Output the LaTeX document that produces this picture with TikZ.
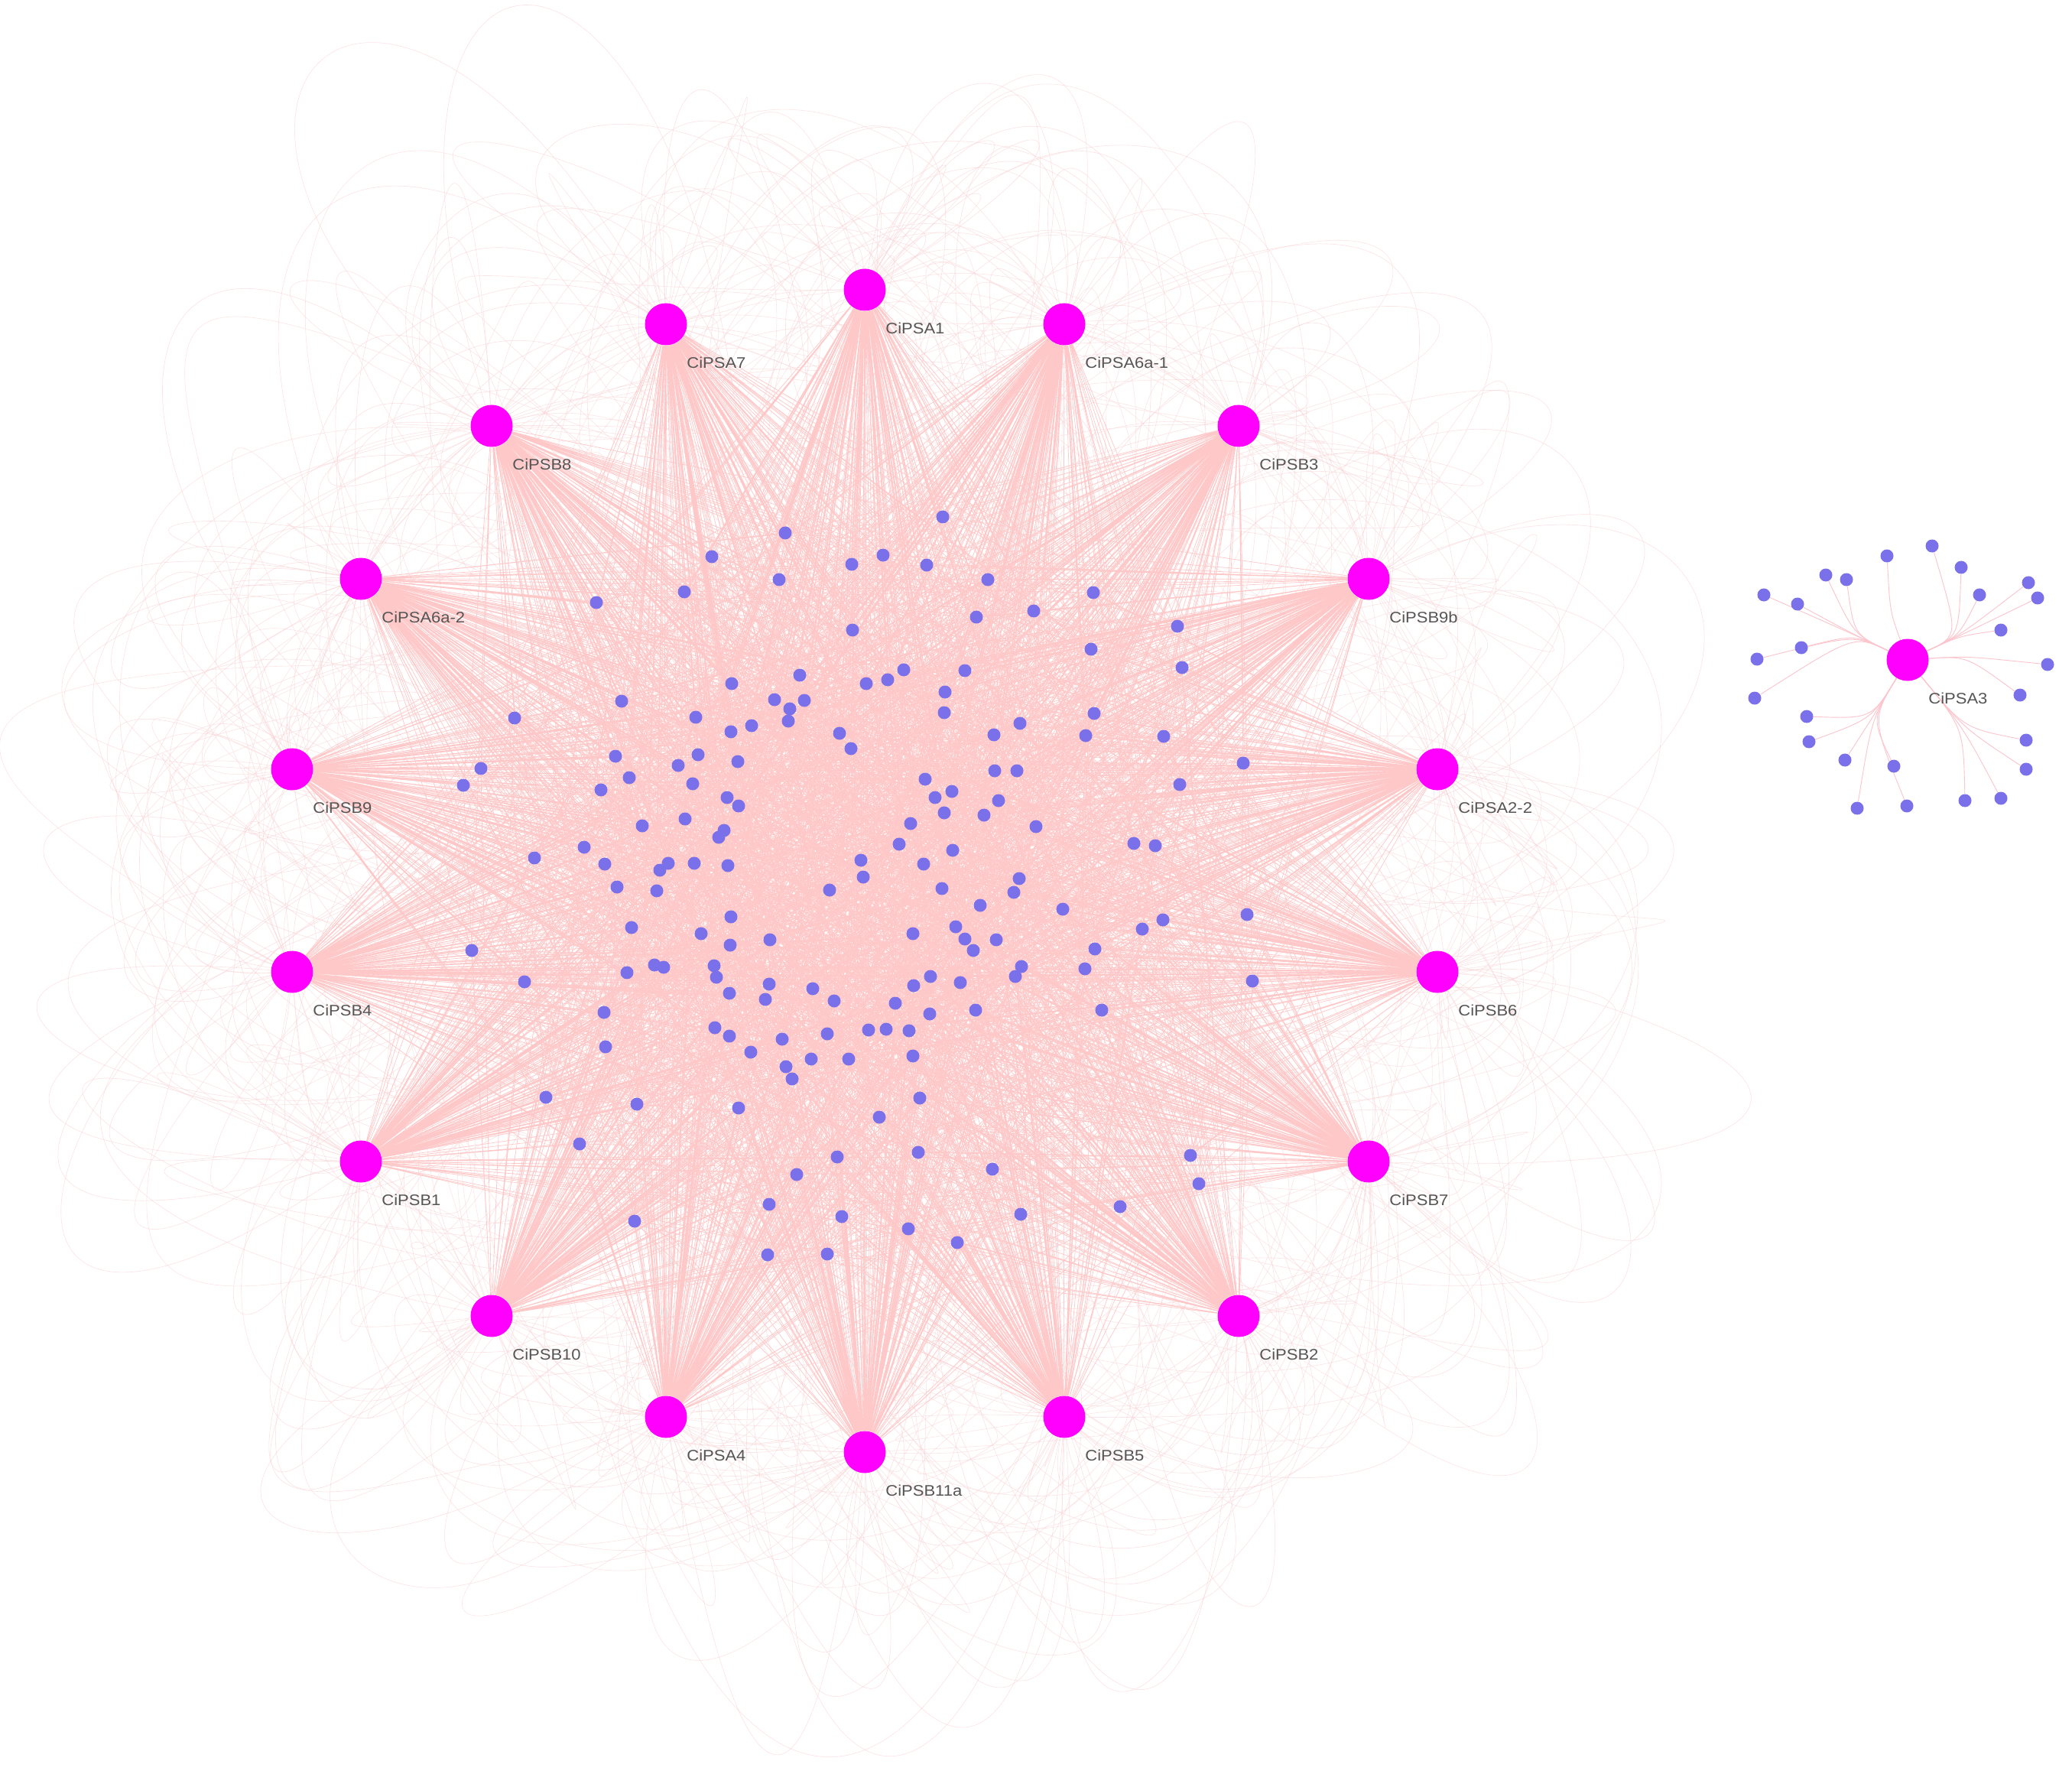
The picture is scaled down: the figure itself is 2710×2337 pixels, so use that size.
\documentclass[tikz,border=0pt]{standalone}
\usepackage{fontspec}
\setmainfont{Liberation Sans}
\usetikzlibrary{calc}
\pgfdeclarelayer{bg}
\pgfsetlayers{bg,main}
\definecolor{hubc}{RGB}{255,0,255}
\definecolor{dotc}{RGB}{122,112,234}
\definecolor{edgec}{RGB}{255,200,200}
\definecolor{curvec}{RGB}{250,208,210}
\definecolor{smallc}{RGB}{252,196,204}
\definecolor{labc}{RGB}{85,85,85}
\begin{document}
\begin{tikzpicture}[x=0.5pt,y=-0.5pt,
  hub/.style={circle,fill=hubc,draw=none,minimum size=27.5pt,inner sep=0pt},
  bdot/.style={circle,fill=dotc,draw=none,minimum size=8.5pt,inner sep=0pt},
  edge/.style={draw=edgec,line width=0.35pt},
  loopedge/.style={draw=curvec,line width=0.3pt,opacity=0.6},
  wanderedge/.style={draw=curvec,line width=0.3pt,opacity=0.55},
  smalledge/.style={draw=smallc,line width=0.45pt},
  lab/.style={anchor=west,text=labc,font=\fontsize{10}{12}\selectfont,inner sep=0pt}]
\useasboundingbox (0,0) rectangle (2710,2337);
\def\hublist{1/1131/379/CiPSA1,2/871/424/CiPSA7,3/1392/424/CiPSA6a-1,4/643/557/CiPSB8,5/1620/557/CiPSB3,6/472/757/CiPSA6a-2,7/1790/757/CiPSB9b,8/382/1006/CiPSB9,9/1880/1006/CiPSA2-2,10/382/1271/CiPSB4,11/1880/1271/CiPSB6,12/472/1519/CiPSB1,13/1790/1519/CiPSB7,14/643/1721/CiPSB10,15/1620/1721/CiPSB2,16/871/1853/CiPSA4,17/1392/1853/CiPSB5,18/1131/1899/CiPSB11a}
% blue gene dots
\foreach [count=\i] \x/\y in {
1027/697,931/728,1114/738,1019/758,895/774,780/788,1115/824,1046/883,957/894,813/917,1013/915,1052/916,1033/927,910/938,673/939,1031/943,983/949,956/957,1098/959,1113/979,805/989,913/987,965/996,887/1001,629/1005,823/1017,906/1025,606/1027,786/1033,951/1043,966/1054,896/1071,840/1080,947/1086,940/1095,764/1108,699/1122,791/1130,874/1129,863/1138,908/1129,952/1132,
1233/676,1155/726,1212/739,1292/758,1430/775,1352/799,1277/807,1540/819,1427/849,1546/873,1182/876,1262/877,1133/894,1161/889,1236/905,1235/932,1431/933,1334/946,1300/961,1420/962,1522/963,1626/998,1301/1008,1330/1008,1543/1026,1210/1019,1245/1035,1223/1043,1306/1047,1235/1063,1287/1066,1191/1077,1355/1081,1176/1104,1246/1112,1483/1103,1511/1106,1126/1125,1208/1130,1129/1147,1333/1149,
807/1160,859/1165,1085/1164,956/1199,826/1213,917/1221,1007/1229,955/1236,617/1243,856/1262,868/1265,820/1272,934/1263,937/1278,686/1284,1006/1287,1063/1293,954/1299,1001/1307,1091/1309,790/1324,935/1344,954/1355,1082/1352,1023/1359,792/1369,982/1376,1061/1385,1110/1385,1028/1395,1036/1411,714/1435,833/1444,966/1449,758/1496,1095/1513,1042/1536,1006/1575,1101/1591,830/1597,1004/1641,1082/1640,
1232/1162,1326/1167,1282/1184,1390/1189,1521/1203,1494/1215,1631/1196,1194/1221,1250/1212,1262/1228,1273/1243,1303/1229,1432/1241,1336/1264,1328/1277,1419/1267,1638/1283,1217/1277,1195/1289,1256/1285,1171/1312,1216/1326,1276/1321,1441/1321,1136/1347,1159/1346,1189/1348,1194/1381,1203/1436,1150/1461,1201/1507,1298/1529,1557/1511,1568/1548,1465/1578,1335/1588,1188/1607,1252/1625}
  \node[bdot] (d\i) at (\x,\y) {};
% hubs and labels
\foreach \n/\x/\y/\lbl in \hublist {
  \node[hub] (h\n) at (\x,\y) {};
  \node[lab] (l\n) at ([shift={(27,50)}]h\n) {\scalebox{1.1}[1]{\lbl}};
}
% separate component CiPSA3
\node[hub] (h19) at (2495,863) {};
\node[lab] (l19) at ([shift={(27,50)}]h19) {\scalebox{1.1}[1]{CiPSA3}};
\foreach [count=\i] \x/\y in {2307/778,2351/790,2388/752,2415/758,2356/847,2298/862,2295/913,
  2468/727,
  2527/714,2565/742,2589/778,2653/762,2665/782,2617/824,
  2678/869,2642/909,
  2363/937,2366/970,2413/994,2429/1057,2477/1002,2494/1054,
  2650/968,2650/1006,2617/1044,2570/1047}
  \node[bdot] (c\i) at (\x,\y) {};
\coordinate (bUL) at (2425,830);
\coordinate (bT) at (2472,800);
\coordinate (bUR) at (2562,832);
\coordinate (bR) at (2572,858);
\coordinate (bLL) at (2448,940);
\coordinate (bLR) at (2568,952);
\coordinate (ctr) at (1131,1139);
\begin{pgfonlayer}{bg}
  \fill[white] (0,0) rectangle (2710,2337);
  \pgfmathsetseed{31}
  \foreach \n/\x/\y/\lbl in \hublist {
    \pgfmathsetmacro\ang{atan2(\y-1139,\x-1131)}
    % looping faint edges outside the ring
    \foreach \j in {1,...,12} {
      \pgfmathrandominteger{\k}{1}{163}
      \pgfmathsetmacro\aA{\ang+rand*80}
      \pgfmathsetmacro\aB{\ang+(rand<0?-1:1)*(50+rnd*90)}
      \pgfmathsetmacro\lA{300+rnd*650}
      \pgfmathsetmacro\lB{300+rnd*650}
      \draw[loopedge] (h\n) .. controls ($(h\n)+(\aA:\lA)$) and ($(h\n)+(\aB:\lB)$) .. (d\k);
    }
    % meandering faint edges across the whole network
    \foreach \j in {1,...,22} {
      \pgfmathrandominteger{\k}{1}{163}
      \pgfmathsetmacro\aA{\ang+rand*130}
      \pgfmathsetmacro\lA{250+rnd*750}
      \pgfmathsetmacro\aB{rnd*360}
      \pgfmathsetmacro\lB{550+rnd*650}
      \draw[wanderedge] (h\n) .. controls ($(h\n)+(\aA:\lA)$) and ($(ctr)+(\aB:\lB)$) .. (d\k);
    }
  }
  % straight edges hub -> genes
  \foreach \n/\x/\y/\lbl in \hublist {
    \draw[edge] \foreach \i in {1,...,163} { (h\n) -- (d\i) };
  }
  % CiPSA3 bundled edges
  \foreach \i in {1,...,7} \draw[smalledge] (h19) .. controls (bUL) .. (c\i);
  \draw[smalledge] (h19) .. controls (bT) .. (c8);
  \foreach \i in {9,...,14} \draw[smalledge] (h19) .. controls (bUR) .. (c\i);
  \foreach \i in {15,16} \draw[smalledge] (h19) .. controls (bR) .. (c\i);
  \foreach \i in {17,...,22} \draw[smalledge] (h19) .. controls (bLL) .. (c\i);
  \foreach \i in {23,...,26} \draw[smalledge] (h19) .. controls (bLR) .. (c\i);
\end{pgfonlayer}
\end{tikzpicture}
\end{document}
